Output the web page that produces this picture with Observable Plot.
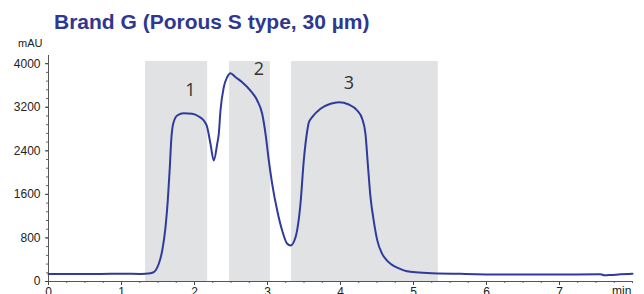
<!DOCTYPE html>
<html>
<head>
<meta charset="utf-8">
<script src="https://cdn.jsdelivr.net/npm/d3@7"></script>
<script src="https://cdn.jsdelivr.net/npm/@observablehq/plot@0.6"></script>
<style>
  html, body { margin: 0; padding: 0; background: #fff; }
  #wrap { position: relative; width: 644px; height: 294px; overflow: hidden; font-family: "Liberation Sans", Arial, sans-serif; }
  #title { position: absolute; left: 54px; top: 10px; font-size: 21px; font-weight: bold; color: #2e3890; white-space: nowrap; }
  #unit { position: absolute; left: 18px; top: 37px; font-size: 11px; color: #222; }
  #minl { position: absolute; left: 612px; top: 284px; font-size: 12px; color: #222; }
  #chart { position: absolute; left: 0; top: 0; }
</style>
</head>
<body>
<div id="wrap">
  <div id="chart"></div>
  <div id="title">Brand G (Porous S type, 30 µm)</div>
  <div id="unit">mAU</div>
  <div id="minl">min</div>
</div>
<script>
// Fraction windows (min) and their labels
const fracStart = [1.33, 2.48, 3.33];
const fracEnd   = [2.18, 3.04, 5.34];
const fracTop   = [4040, 4040, 4040];
const fracLabel = ["1", "2", "3"];
const labelTime = [1.945, 2.881, 4.114];
const labelValue = [3507, 3906, 3641];

// Chromatogram trace: time (min) and absorbance (mAU)
const timeMin = [0.00, 0.71, 1.00, 1.26, 1.397, 1.442, 1.466, 1.511, 1.558, 1.603, 1.634, 1.662, 1.681, 1.708, 1.763, 1.853, 1.968, 2.059, 2.127, 2.174, 2.219, 2.264, 2.311, 2.333, 2.356, 2.401, 2.447, 2.493, 2.562, 2.653, 2.767, 2.859, 2.927, 2.973, 3.018, 3.064, 3.133, 3.201, 3.270, 3.315, 3.384, 3.452, 3.497, 3.545, 3.566, 3.612, 3.726, 3.863, 3.977, 4.114, 4.229, 4.297, 4.342, 4.374, 4.411, 4.456, 4.503, 4.571, 4.62, 4.685, 4.777, 4.867, 4.959, 5.188, 5.644, 6.192, 6.877, 7.56, 7.616, 7.70, 7.836, 8.00];
const signal  = [140, 140, 142, 140, 152, 171, 202, 325, 569, 997, 1487, 2099, 2589, 2896, 3048, 3090, 3079, 3030, 2956, 2833, 2528, 2222, 2528, 2718, 3140, 3568, 3751, 3825, 3751, 3660, 3507, 3324, 3079, 2712, 2222, 1794, 1304, 936, 692, 661, 813, 1432, 2222, 2773, 2920, 3017, 3171, 3263, 3292, 3250, 3140, 2988, 2712, 2161, 1548, 1110, 760, 508, 410, 325, 255, 205, 178, 158, 141, 129, 129, 132, 114, 119, 132, 141];

// Axis ticks
const xTicks = [0, 1, 2, 3, 4, 5, 6, 7];
const xMinor = d3.range(0, 8.001, 0.25);
const yTicks = [0, 800, 1600, 2400, 3200, 4000];
const yMinor = d3.range(0, 4150, 160);

const trace = timeMin.map((t, i) => ({t, v: signal[i]}));
const fractions = fracStart.map((s, i) => ({s, e: fracEnd[i], top: fracTop[i], label: fracLabel[i], lt: labelTime[i], lv: labelValue[i]}));

const chart = Plot.plot({
  width: 644,
  height: 294,
  marginLeft: 48,
  marginRight: 12,
  marginTop: 55,
  marginBottom: 13,
  style: {fontFamily: '"Liberation Sans", Arial, sans-serif', fontSize: "12px", color: "#222", background: "transparent"},
  x: {domain: [0, 8]},
  y: {domain: [0, 4150]},
  marks: [
    Plot.rect(fractions, {x1: "s", x2: "e", y1: 0, y2: "top", fill: "#e1e2e4"}),
    Plot.axisX({ticks: xMinor, tickSize: 2, text: null, stroke: "#666"}),
    Plot.axisX({ticks: xTicks, tickSize: 4, tickPadding: 2, fontSize: 12, stroke: "#444", tickFormat: d => String(d)}),
    Plot.axisY({ticks: yMinor, tickSize: 2, text: null, stroke: "#666"}),
    Plot.axisY({ticks: yTicks, tickSize: 3, tickPadding: 5, fontSize: 12, label: null, stroke: "#444", tickFormat: d => String(d)}),
    Plot.ruleY([0], {stroke: "#555", strokeWidth: 1}),
    Plot.ruleX([0], {stroke: "#555", strokeWidth: 1}),
    Plot.line(trace, {x: "t", y: "v", stroke: "#2f3a9c", strokeWidth: 2, curve: "monotone-x"}),
    Plot.text(fractions, {x: "lt", y: "lv", text: "label", fontSize: 18, fill: "#333", fontFamily: '"Open Sans", sans-serif'})
  ]
});
document.getElementById("chart").appendChild(chart);
</script>
</body>
</html>
